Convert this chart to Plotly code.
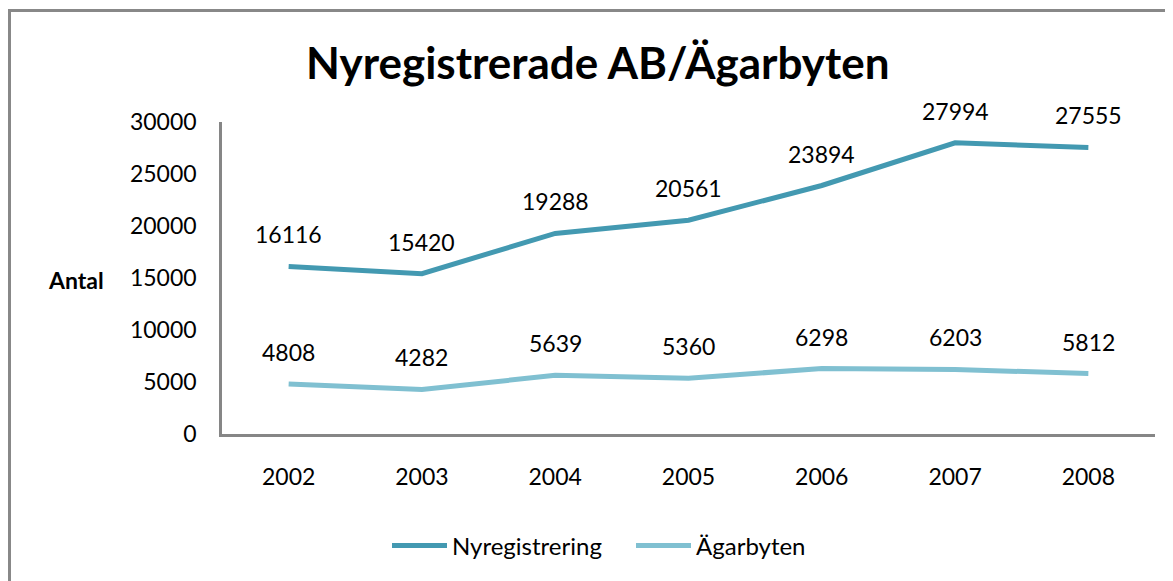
import plotly.graph_objects as go

years = ["2002", "2003", "2004", "2005", "2006", "2007", "2008"]
nyregistrering = [16116, 15420, 19288, 20561, 23894, 27994, 27555]
agarbyten = [4808, 4282, 5639, 5360, 6298, 6203, 5812]
y_ticks = [0, 5000, 10000, 15000, 20000, 25000, 30000]

# page body margin offset
OFF = 8
W, H = 1173, 581
L, R, T, B = 222 - OFF, 26, 122 - OFF, 147 + OFF
PW, PH = W - L - R, H - T - B
FONT = "Lato"
FS = 23

c1 = "#4399B1"
c2 = "#80C0D1"

fig = go.Figure()
fig.add_trace(go.Scatter(x=years, y=nyregistrering, mode="lines", name="Nyregistrering",
                         line=dict(color=c1, width=5)))
fig.add_trace(go.Scatter(x=years, y=agarbyten, mode="lines", name="Ägarbyten",
                         line=dict(color=c2, width=5)))

ann = []
for series in (nyregistrering, agarbyten):
    for i, yv in enumerate(series):
        ann.append(dict(x=i, y=yv, text=str(yv), showarrow=False, yshift=32,
                        font=dict(family=FONT, size=FS, color="#000")))

def px_x(p):
    return (p - OFF - L) / PW

def px_y(p):
    return (H - B - (p - OFF)) / PH

ann.append(dict(xref="paper", yref="paper", x=px_x(597), y=px_y(62), text="<b>Nyregistrerade AB/Ägarbyten</b>",
                showarrow=False, font=dict(family=FONT, size=44, color="#000"), xanchor="center", yanchor="middle"))
ann.append(dict(xref="paper", yref="paper", x=px_x(76), y=px_y(280), text="<b>Antal</b>",
                showarrow=False, font=dict(family=FONT, size=FS, color="#000"), xanchor="center", yanchor="middle"))

fig.update_layout(
    width=W, height=H,
    margin=dict(l=L, r=R, t=T, b=B),
    paper_bgcolor="white", plot_bgcolor="white",
    font=dict(family=FONT, size=FS, color="#000"),
    annotations=ann,
    showlegend=True,
    legend=dict(orientation="h", x=px_x(387), xanchor="left", y=px_y(546), yanchor="middle",
                font=dict(family=FONT, size=24), itemwidth=55, entrywidth=174,
                bgcolor="rgba(0,0,0,0)"),
    shapes=[dict(type="rect", xref="paper", yref="paper",
                 x0=px_x(9.5), x1=px_x(1200), y0=px_y(620), y1=px_y(10.5),
                 line=dict(color="#888888", width=3), layer="below")],
)
fig.update_xaxes(type="category", range=[-0.5, len(years) - 0.5], showline=True, linecolor="#868686",
                 linewidth=2.5, showgrid=False, ticks="", ticklabelstandoff=21,
                 tickfont=dict(family=FONT, size=FS))
fig.update_yaxes(range=[0, 30000], tickvals=y_ticks, ticktext=[str(v) for v in y_ticks],
                 showline=True, linecolor="#868686", linewidth=2.5,
                 showgrid=False, zeroline=False, ticks="", ticklabelstandoff=18,
                 tickfont=dict(family=FONT, size=FS))

fig.write_html("out.html")
